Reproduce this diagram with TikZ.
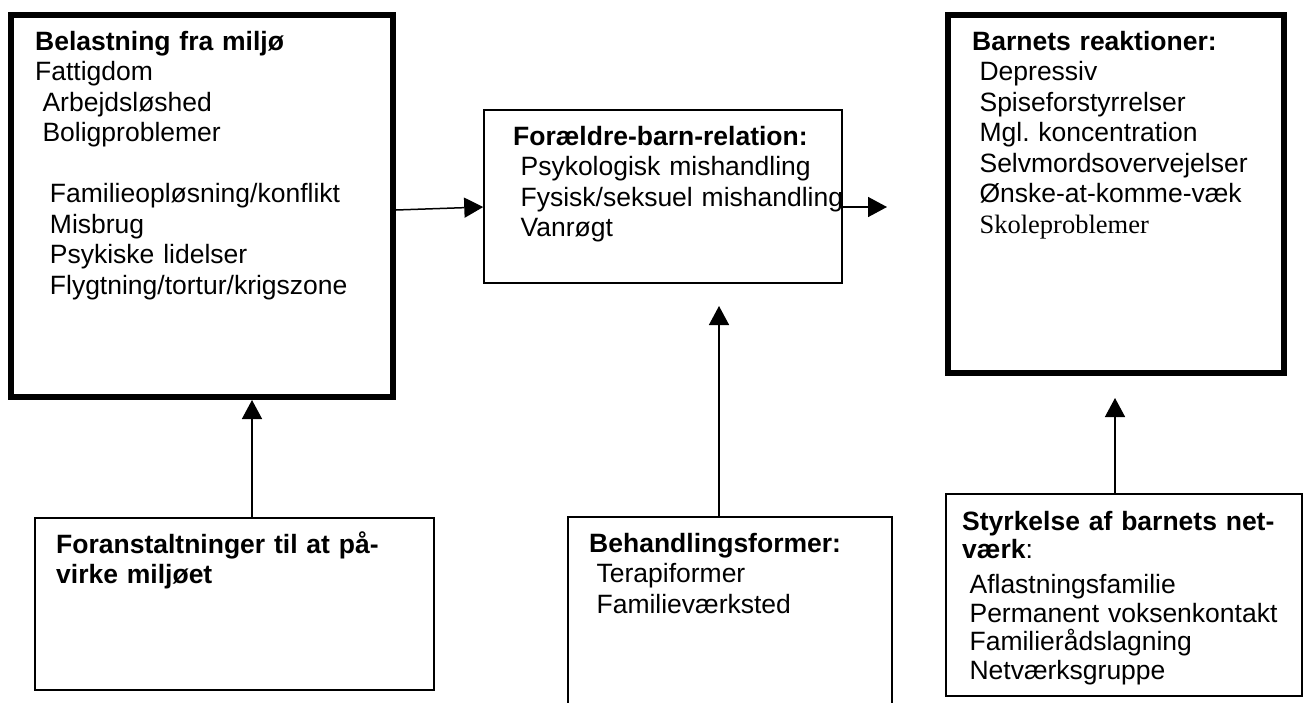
\documentclass[tikz,border=0pt]{standalone}
\usepackage{fontspec}
\setmainfont{Liberation Sans}
\newfontfamily\timesfont{Liberation Serif}
\usetikzlibrary{positioning,arrows.meta,calc}

\tikzset{
  tykboks/.style={draw, line width=6pt, inner sep=0pt},
  tyndboks/.style={draw, line width=1.5pt, inner sep=0pt},
  tekst/.style={inner sep=0pt, anchor=base west, align=left, text width=400pt,
    font=\fontsize{26.5}{30.5}\selectfont\frenchspacing},
  pil/.style={line width=1.5pt, -{Triangle[length=19pt,width=20pt]}}
}
\newcommand\ind{\hspace*{0.278em}}

\begin{document}
\begin{tikzpicture}[x=1pt, y=-1pt]
    \useasboundingbox (0,0) rectangle (1305,702);
    % kasser
    \node[tykboks, minimum width=382pt, minimum height=382pt] (miljo) at (202,206) {};
    \node[tyndboks, minimum width=358pt, minimum height=173pt] (relation) at (663,196.5) {};
    \node[tykboks, minimum width=336pt, minimum height=358pt] (reaktion) at (1116,194) {};
    \node[tyndboks, minimum width=399pt, minimum height=172pt] (foranst) at (234.5,604) {};
    \node[inner sep=0pt, outer sep=0pt, minimum width=324pt, minimum height=190pt] (behandl) at (730,612) {};
    \node[tyndboks, minimum width=356pt, minimum height=202pt] (netvaerk) at (1124,595) {};
    \draw[line width=1.5pt] (behandl.south west) -- (behandl.north west)
      -- (behandl.north east) -- (behandl.south east);

    % tekster
    \node[tekst] (miljotxt) at (35,50) {\textbf{Belastning fra miljø}\\
      Fattigdom\\
      \ind Arbejdsløshed\\
      \ind Boligproblemer\\[30.5pt]
      \ind\ind Familieopløsning/konflikt\\
      \ind\ind Misbrug\\
      \ind\ind Psykiske lidelser\\
      \ind\ind Flygtning/tortur/krigszone};
    \node[tekst] (relationtxt) at (513,145) {\textbf{Forældre-barn-relation:}\\
      \ind Psykologisk mishandling\\
      \ind Fysisk/seksuel mishandling\\
      \ind Vanrøgt};
    \node[tekst] (reaktiontxt) at (972,50) {\textbf{Barnets reaktioner:}\\
      \ind Depressiv\\
      \ind Spiseforstyrrelser\\
      \ind Mgl. koncentration\\
      \ind Selvmordsovervejelser\\
      \ind Ønske-at-komme-væk\\
      \ind{\timesfont Skoleproblemer}};
    \node[tekst] (foransttxt) at (56,553) {\textbf{Foranstaltninger til at på-}\\
      \textbf{virke miljøet}};
    \node[tekst] (behandltxt) at (589,552) {\textbf{Behandlingsformer:}\\
      \ind Terapiformer\\
      \ind Familieværksted};
    \node[tekst, font=\fontsize{26.5}{28.5}\selectfont] (netvaerktxt) at (962,530)
      {\textbf{Styrkelse af barnets net-}\\
      \textbf{værk}:\\[6.5pt]
      \ind Aflastningsfamilie\\
      \ind Permanent voksenkontakt\\
      \ind Familierådslagning\\
      \ind Netværksgruppe};

    % pile
    \coordinate (spidsC) at (887,207);
    \coordinate (spidsB) at (719,306);
    \coordinate (spidsD) at (1115,398);
    \draw[pil] ([yshift=-4pt]miljo.east) -- ([yshift=-10.5pt]relation.west);
    \draw[pil] ([yshift=-10.5pt]relation.east) -- (spidsC);
    \draw[pil] (behandl.north -| spidsB) -- (spidsB);
    \draw[pil] ([xshift=17.5pt]foranst.north) -- ([xshift=50pt]miljo.south);
    \draw[pil] (netvaerk.north -| spidsD) -- (spidsD);
\end{tikzpicture}
\end{document}
